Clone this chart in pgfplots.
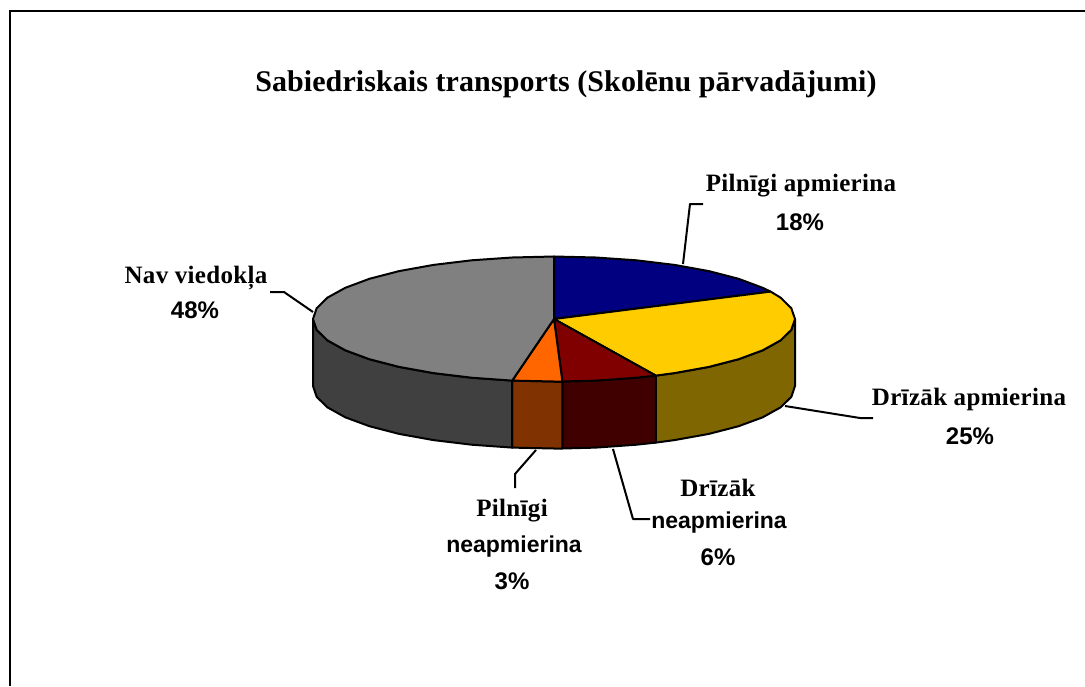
\documentclass[border=0pt]{standalone}
\usepackage{pgfplots}
\pgfplotsset{compat=1.18}
\usepackage{fontspec}
\setmainfont{Liberation Serif}
\newfontfamily\sansb{Liberation Sans}[BoldFont={* Bold}]
\newcommand{\lblS}{\fontsize{25}{33}\selectfont\bfseries\addfontfeatures{LetterSpace=1.3}}
\newcommand{\sn}{\sansb\bfseries\fontsize{23}{33}\selectfont}
\newcommand{\pc}{\sansb\bfseries\fontsize{24}{33}\selectfont}
\begin{document}
\begin{tikzpicture}
\path[use as bounding box] (0,0) rectangle (1085pt,686pt);
\begin{axis}[
  anchor=south west, at={(0,0)},
  width=1085pt, height=686pt, scale only axis,
  xmin=0, xmax=1085, ymin=0, ymax=686, y dir=reverse,
  hide axis, clip=false,
  cycle list={{black}},
  every axis plot/.append style={no markers, line width=2pt, line join=round},
]
% frame
\addplot[black, line width=2.4pt, line join=miter] coordinates {(10,686) (10,11) (1085,11)};
% sides
\addplot[black, fill={rgb,255:red,127;green,102;blue,0}] coordinates {(795,319) (791.3,329.9) (780.5,340.4) (762.7,350.3) (738.6,359.2) (708.9,366.9) (674.5,373.1) (655.8,375.6) (655.8,442.6) (674.5,440.1) (708.9,433.9) (738.6,426.2) (762.7,417.3) (780.5,407.4) (791.3,396.9) (795,386)} --cycle;
\addplot[black, fill={rgb,255:red,64;green,0;blue,0}] coordinates {(655.8,375.6) (636.4,377.7) (595.8,380.6) (562.4,381.5) (562.4,448.5) (595.8,447.6) (636.4,444.7) (655.8,442.6)} --cycle;
\addplot[black, fill={rgb,255:red,128;green,51;blue,0}] coordinates {(562.4,381.5) (554,381.5) (512.2,380.6) (512.2,447.6) (554,448.5) (562.4,448.5)} --cycle;
\addplot[black, fill={rgb,255:red,64;green,64;blue,64}] coordinates {(512.2,380.6) (471.6,377.7) (433.5,373.1) (399.1,366.9) (369.4,359.2) (345.3,350.3) (327.5,340.4) (316.7,329.9) (313,319) (313,386) (316.7,396.9) (327.5,407.4) (345.3,417.3) (369.4,426.2) (399.1,433.9) (433.5,440.1) (471.6,444.7) (512.2,447.6)} --cycle;
% tops
\addplot[black, fill={rgb,255:red,0;green,0;blue,128}] coordinates {(554,319) (554,256.5) (595.8,257.5) (636.4,260.3) (674.5,264.9) (708.9,271.1) (738.6,278.8) (762.7,287.8) (770.6,291.6)} --cycle;
\addplot[black, fill={rgb,255:red,255;green,204;blue,0}] coordinates {(554,319) (770.6,291.6) (780.5,297.6) (791.3,308.2) (795,319) (791.3,329.9) (780.5,340.4) (762.7,350.3) (738.6,359.2) (708.9,366.9) (674.5,373.1) (655.8,375.6)} --cycle;
\addplot[black, fill={rgb,255:red,128;green,0;blue,0}] coordinates {(554,319) (655.8,375.6) (636.4,377.7) (595.8,380.6) (562.4,381.5)} --cycle;
\addplot[black, fill={rgb,255:red,255;green,102;blue,0}] coordinates {(554,319) (562.4,381.5) (554,381.5) (512.2,380.6)} --cycle;
\addplot[black, fill={rgb,255:red,128;green,128;blue,128}] coordinates {(554,319) (512.2,380.6) (471.6,377.7) (433.5,373.1) (399.1,366.9) (369.4,359.2) (345.3,350.3) (327.5,340.4) (316.7,329.9) (313,319) (316.7,308.2) (327.5,297.6) (345.3,287.8) (369.4,278.8) (399.1,271.1) (433.5,264.9) (471.6,260.3) (512.2,257.5) (554,256.5)} --cycle;
% leaders
\addplot[black] coordinates {(683,264) (690,204) (703,204)};
\addplot[black] coordinates {(785,406) (860,418) (873,418)};
\addplot[black] coordinates {(313,312) (284,292) (270,292)};
\addplot[black] coordinates {(536,450) (515,474) (515,488)};
\addplot[black] coordinates {(613,449) (633,519) (650,519)};
% text
\node[font=\fontsize{30}{34}\selectfont\bfseries\addfontfeatures{LetterSpace=0.3}] at (axis cs:566,84) {Sabiedriskais transports (Skolēnu pārvadājumi)};
\node[font=\lblS] at (axis cs:801,186) {Pilnīgi apmierina};
\node[font=\pc] at (axis cs:800,222) {18\%};
\node[font=\lblS] at (axis cs:969,399) {Drīzāk apmierina};
\node[font=\pc] at (axis cs:970,436) {25\%};
\node[font=\lblS] at (axis cs:196,278) {Nav viedokļa};
\node[font=\pc] at (axis cs:195,310) {48\%};
\node[font=\lblS] at (axis cs:512,511) {Pilnīgi};
\node[font=\sn] at (axis cs:514,547) {neapmierina};
\node[font=\pc] at (axis cs:512,581) {3\%};
\node[font=\lblS] at (axis cs:718,488) {Drīzāk};
\node[font=\sn] at (axis cs:719,523) {neapmierina};
\node[font=\pc] at (axis cs:718,557) {6\%};
\end{axis}
\end{tikzpicture}
\end{document}
